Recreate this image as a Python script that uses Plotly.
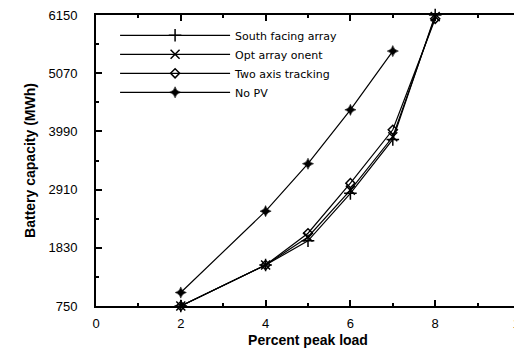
import plotly.graph_objects as go

load_pct = [2, 4, 5, 6, 7, 8]
south_facing = [750, 1510, 1960, 2840, 3840, 6150]
opt_orient = [750, 1510, 2030, 2900, 3890, 6120]
two_axis = [750, 1510, 2100, 3030, 4020, 6080]
no_pv_x = [2, 4, 5, 6, 7]
no_pv = [1000, 2510, 3390, 4390, 5480]

y_ticks = [750, 1830, 2910, 3990, 5070, 6150]
x_ticks = [0, 2, 4, 6, 8, 10]

fig = go.Figure()
series = [
    ("South facing array", load_pct, south_facing, dict(symbol="cross-thin", size=9, line=dict(width=1.5, color="black"))),
    ("Opt array onent", load_pct, opt_orient, dict(symbol="x-thin", size=9, line=dict(width=1.5, color="black"))),
    ("Two axis tracking", load_pct, two_axis, dict(symbol="diamond-open", size=7, color="black", line=dict(width=1.5, color="black"))),
    ("No PV", no_pv_x, no_pv, dict(symbol="star-diamond", size=8, color="black", line=dict(width=0.5, color="black"))),
]
for name, xs, ys, mk in series:
    fig.add_trace(go.Scatter(x=xs, y=ys, name=name, mode="lines+markers",
                             line=dict(color="black", width=1.2), marker=mk, cliponaxis=False))

axis_common = dict(showline=True, linecolor="black", linewidth=2, mirror="allticks",
                   ticks="inside", ticklen=6, tickwidth=1.5, tickcolor="black",
                   showgrid=False, zeroline=False, automargin=False, ticklabeloverflow="allow",
                   tickfont=dict(family="Liberation Sans", size=13, color="black"))
fig.update_xaxes(range=[0, 10], tickvals=x_ticks, ticktext=[str(v) for v in x_ticks],
                 minor=dict(ticks="inside", ticklen=3, tickcolor="black", dtick=1, tick0=0),
                 ticklabelstandoff=4,
                 title=dict(text="<b>Percent peak load</b>", font=dict(family="Liberation Sans", size=14, color="black"), standoff=6),
                 **axis_common)
fig.update_yaxes(range=[750, 6150], tickvals=y_ticks, ticktext=[str(v) for v in y_ticks],
                 minor=dict(ticks="inside", ticklen=3, tickcolor="black", tickvals=[1290, 2370, 3450, 4530, 5610]),
                 ticklabelstandoff=14,
                 title=dict(text="<b>Battery capacity (MWh)</b>", font=dict(family="Liberation Sans", size=14, color="black"), standoff=10),
                 **axis_common)
fig.update_layout(
    width=514, height=341,
    margin=dict(l=88, r=2, t=7, b=43),
    paper_bgcolor="white", plot_bgcolor="white",
    showlegend=True,
    legend=dict(x=0.045, y=0.98, xanchor="left", yanchor="top", bgcolor="rgba(0,0,0,0)",
                font=dict(family="DejaVu Sans", size=11, color="black"), itemwidth=110,
                tracegroupgap=0),
)
fig.write_html("out.html")
